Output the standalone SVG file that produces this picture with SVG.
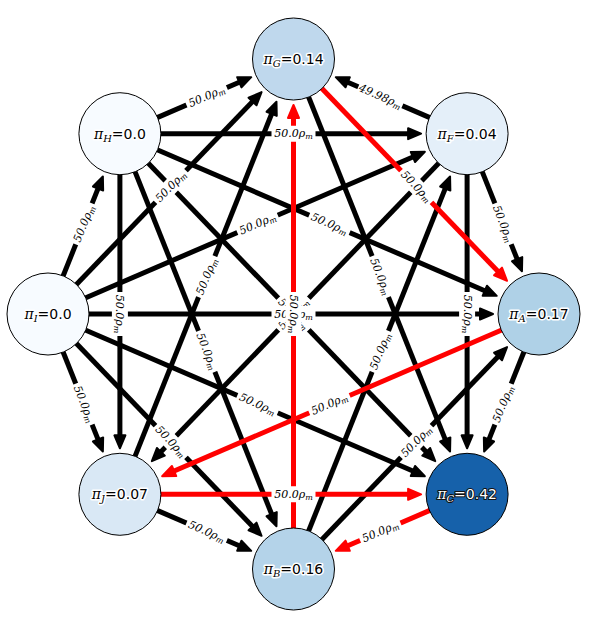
<svg xmlns="http://www.w3.org/2000/svg" width="598" height="631" viewBox="0 0 598 631">
<style>
.bg{fill:#fff}
.e{stroke:#000;stroke-width:5;fill:none;marker-end:url(#ab)}
.r{stroke:#f00;marker-end:url(#ar)}
.nd{stroke:#000;stroke-width:1}
.lb rect{fill:#fff}
.lb text{font-family:"DejaVu Serif",serif;font-style:italic;font-size:11px;text-anchor:middle;fill:#000}
.lb tspan{font-size:8px}
.nt{font-family:"DejaVu Sans",sans-serif;font-size:14px;text-anchor:middle;fill:#000;stroke:#fff;stroke-width:3;paint-order:stroke;stroke-linejoin:round}
.nt .m{font-family:"DejaVu Serif",serif;font-style:italic}
.nt .s{font-family:"DejaVu Serif",serif;font-style:italic;font-size:10px}
.nt .q{font-family:"DejaVu Serif",serif}
.dk{fill:#fff;stroke:#111;stroke-width:2}
</style>
<defs>
<marker id="ab" markerUnits="userSpaceOnUse" markerWidth="20" markerHeight="16" viewBox="-2 -8 20 16" refX="5" refY="0" orient="auto"><path d="M0,-5.5 L13,0 L0,5.5 z" fill="#000" stroke="#000" stroke-width="2" stroke-linejoin="round"/></marker>
<marker id="ar" markerUnits="userSpaceOnUse" markerWidth="20" markerHeight="16" viewBox="-2 -8 20 16" refX="5" refY="0" orient="auto"><path d="M0,-5.5 L13,0 L0,5.5 z" fill="#f00" stroke="#f00" stroke-width="2" stroke-linejoin="round"/></marker>
</defs>
<rect class="bg" width="598" height="631"/>
<g id="edges">
<line class="e" x1="156.6" y1="117.9" x2="243.9" y2="80.3"/>
<line class="e" x1="75.7" y1="285.2" x2="256.0" y2="97.9"/>
<line class="e" x1="134.7" y1="457.1" x2="273.5" y2="109.2"/>
<line class="e" x1="430.4" y1="117.9" x2="343.1" y2="80.3"/>
<line class="e" x1="308.3" y1="96.2" x2="447.1" y2="444.1"/>
<line class="e" x1="159.9" y1="133.7" x2="413.1" y2="133.7"/>
<line class="e" x1="84.7" y1="298.2" x2="417.5" y2="155.0"/>
<line class="e" x1="308.3" y1="531.8" x2="447.1" y2="183.9"/>
<line class="e" x1="481.9" y1="170.9" x2="519.0" y2="263.8"/>
<line class="e" x1="467.1" y1="173.7" x2="467.1" y2="440.3"/>
<line class="e" x1="439.4" y1="162.5" x2="157.4" y2="455.4"/>
<line class="e" x1="156.6" y1="149.5" x2="489.4" y2="292.7"/>
<line class="e" x1="88" y1="314" x2="485" y2="314"/>
<line class="e" x1="321.2" y1="540.2" x2="501.5" y2="352.9"/>
<line class="e" x1="524.2" y1="351.2" x2="487.1" y2="444.1"/>
<line class="e" x1="147.6" y1="162.5" x2="429.7" y2="455.4"/>
<line class="e" x1="84.7" y1="329.8" x2="417.5" y2="473.0"/>
<line class="e" x1="156.6" y1="510.1" x2="243.9" y2="547.7"/>
<line class="e" x1="75.7" y1="342.8" x2="256.0" y2="530.1"/>
<line class="e" x1="134.7" y1="170.9" x2="273.5" y2="518.8"/>
<line class="e" x1="62.8" y1="351.2" x2="99.9" y2="444.1"/>
<line class="e" x1="119.9" y1="173.7" x2="119.9" y2="440.3"/>
<line class="e" x1="62.8" y1="276.8" x2="99.9" y2="183.9"/>
<line class="e r" x1="293.5" y1="529" x2="293.5" y2="113"/>
<line class="e r" x1="321.2" y1="87.8" x2="501.5" y2="275.1"/>
<line class="e r" x1="502.3" y1="329.8" x2="169.5" y2="473.0"/>
<line class="e r" x1="159.9" y1="494.3" x2="413.1" y2="494.3"/>
<line class="e r" x1="430.4" y1="510.1" x2="343.1" y2="547.7"/>
</g>
<g id="node-G"><circle class="nd" cx="293.5" cy="59" r="41" fill="#bfd8ed"/><text class="nt" x="293.5" y="64"><tspan class="m">π</tspan><tspan class="s" dy="3">G</tspan><tspan class="q" dy="-3">=</tspan>0.14</text></g>
<g id="node-F"><circle class="nd" cx="467.1" cy="133.7" r="41" fill="#e4eff9"/><text class="nt" x="467.1" y="138.7"><tspan class="m">π</tspan><tspan class="s" dy="3">F</tspan><tspan class="q" dy="-3">=</tspan>0.04</text></g>
<g id="node-A"><circle class="nd" cx="539" cy="314" r="41" fill="#afd1e7"/><text class="nt" x="539" y="319"><tspan class="m">π</tspan><tspan class="s" dy="3">A</tspan><tspan class="q" dy="-3">=</tspan>0.17</text></g>
<g id="node-C"><circle class="nd" cx="467.1" cy="494.3" r="41" fill="#1661aa"/><text class="nt dk" x="467.1" y="499.3"><tspan class="m">π</tspan><tspan class="s" dy="3">C</tspan><tspan class="q" dy="-3">=</tspan>0.42</text></g>
<g id="node-B"><circle class="nd" cx="293.5" cy="569" r="41" fill="#b4d3e9"/><text class="nt" x="293.5" y="574"><tspan class="m">π</tspan><tspan class="s" dy="3">B</tspan><tspan class="q" dy="-3">=</tspan>0.16</text></g>
<g id="node-J"><circle class="nd" cx="119.9" cy="494.3" r="41" fill="#d9e8f5"/><text class="nt" x="119.9" y="499.3"><tspan class="m">π</tspan><tspan class="s" dy="3">J</tspan><tspan class="q" dy="-3">=</tspan>0.07</text></g>
<g id="node-I"><circle class="nd" cx="48" cy="314" r="41" fill="#f7fbff"/><text class="nt" x="48" y="319"><tspan class="m">π</tspan><tspan class="s" dy="3">I</tspan><tspan class="q" dy="-3">=</tspan>0.0</text></g>
<g id="node-H"><circle class="nd" cx="119.9" cy="133.7" r="41" fill="#f7fbff"/><text class="nt" x="119.9" y="138.7"><tspan class="m">π</tspan><tspan class="s" dy="3">H</tspan><tspan class="q" dy="-3">=</tspan>0.0</text></g>
<g id="edge-labels" class="lb">
<g transform="translate(380.3,96.35) rotate(23.3)"><rect x="-24" y="-8" width="48" height="16" rx="3"/><text y="3.5">49.98ρ<tspan dy="2">m</tspan></text></g>
<g transform="translate(206.7,96.35) rotate(-23.3)"><rect x="-22" y="-8" width="44" height="16" rx="3"/><text y="3.5">50.0ρ<tspan dy="2">m</tspan></text></g>
<g transform="translate(416.25,186.5) rotate(46.1)"><rect x="-22" y="-8" width="44" height="16" rx="3"/><text y="3.5">50.0ρ<tspan dy="2">m</tspan></text></g>
<g transform="translate(380.3,276.65) rotate(68.3)"><rect x="-22" y="-8" width="44" height="16" rx="3"/><text y="3.5">50.0ρ<tspan dy="2">m</tspan></text></g>
<g transform="translate(206.7,276.65) rotate(-68.3)"><rect x="-22" y="-8" width="44" height="16" rx="3"/><text y="3.5">50.0ρ<tspan dy="2">m</tspan></text></g>
<g transform="translate(170.75,186.5) rotate(-46.1)"><rect x="-22" y="-8" width="44" height="16" rx="3"/><text y="3.5">50.0ρ<tspan dy="2">m</tspan></text></g>
<g transform="translate(503.05,223.85) rotate(68.3)"><rect x="-22" y="-8" width="44" height="16" rx="3"/><text y="3.5">50.0ρ<tspan dy="2">m</tspan></text></g>
<g transform="translate(467.1,314) rotate(90)"><rect x="-22" y="-8" width="44" height="16" rx="3"/><text y="3.5">50.0ρ<tspan dy="2">m</tspan></text></g>
<g transform="translate(380.3,351.35) rotate(-68.3)"><rect x="-22" y="-8" width="44" height="16" rx="3"/><text y="3.5">50.0ρ<tspan dy="2">m</tspan></text></g>
<g transform="translate(257.55,223.85) rotate(-23.3)"><rect x="-22" y="-8" width="44" height="16" rx="3"/><text y="3.5">50.0ρ<tspan dy="2">m</tspan></text></g>
<g transform="translate(293.5,133.7)"><rect x="-22" y="-8" width="44" height="16" rx="3"/><text y="3.5">50.0ρ<tspan dy="2">m</tspan></text></g>
<g transform="translate(329.45,223.85) rotate(23.3)"><rect x="-22" y="-8" width="44" height="16" rx="3"/><text y="3.5">50.0ρ<tspan dy="2">m</tspan></text></g>
<g transform="translate(416.25,441.5) rotate(-46.1)"><rect x="-22" y="-8" width="44" height="16" rx="3"/><text y="3.5">50.0ρ<tspan dy="2">m</tspan></text></g>
<g transform="translate(503.05,404.15) rotate(-68.3)"><rect x="-22" y="-8" width="44" height="16" rx="3"/><text y="3.5">50.0ρ<tspan dy="2">m</tspan></text></g>
<g transform="translate(329.45,404.15) rotate(-23.3)"><rect x="-22" y="-8" width="44" height="16" rx="3"/><text y="3.5">50.0ρ<tspan dy="2">m</tspan></text></g>
<g transform="translate(380.3,531.65) rotate(-23.3)"><rect x="-22" y="-8" width="44" height="16" rx="3"/><text y="3.5">50.0ρ<tspan dy="2">m</tspan></text></g>
<g transform="translate(293.5,494.3)"><rect x="-22" y="-8" width="44" height="16" rx="3"/><text y="3.5">50.0ρ<tspan dy="2">m</tspan></text></g>
<g transform="translate(257.55,404.15) rotate(23.3)"><rect x="-22" y="-8" width="44" height="16" rx="3"/><text y="3.5">50.0ρ<tspan dy="2">m</tspan></text></g>
<g transform="translate(206.7,531.65) rotate(23.3)"><rect x="-22" y="-8" width="44" height="16" rx="3"/><text y="3.5">50.0ρ<tspan dy="2">m</tspan></text></g>
<g transform="translate(170.75,441.5) rotate(46.1)"><rect x="-22" y="-8" width="44" height="16" rx="3"/><text y="3.5">50.0ρ<tspan dy="2">m</tspan></text></g>
<g transform="translate(206.7,351.35) rotate(68.3)"><rect x="-22" y="-8" width="44" height="16" rx="3"/><text y="3.5">50.0ρ<tspan dy="2">m</tspan></text></g>
<g transform="translate(83.95,404.15) rotate(68.3)"><rect x="-22" y="-8" width="44" height="16" rx="3"/><text y="3.5">50.0ρ<tspan dy="2">m</tspan></text></g>
<g transform="translate(119.9,314) rotate(90)"><rect x="-22" y="-8" width="44" height="16" rx="3"/><text y="3.5">50.0ρ<tspan dy="2">m</tspan></text></g>
<g transform="translate(83.95,223.85) rotate(-68.3)"><rect x="-22" y="-8" width="44" height="16" rx="3"/><text y="3.5">50.0ρ<tspan dy="2">m</tspan></text></g>
<g transform="translate(293.5,314) rotate(46.1)"><rect x="-22" y="-8" width="44" height="16" rx="3"/><text y="3.5">50.0ρ<tspan dy="2">m</tspan></text></g>
<g transform="translate(293.5,314) rotate(-46.1)"><rect x="-22" y="-8" width="44" height="16" rx="3"/><text y="3.5">50.0ρ<tspan dy="2">m</tspan></text></g>
<g transform="translate(293.5,314)"><rect x="-22" y="-8" width="44" height="16" rx="3"/><text y="3.5">50.0ρ<tspan dy="2">m</tspan></text></g>
<g transform="translate(293.5,314) rotate(90)"><rect x="-22" y="-8" width="44" height="16" rx="3"/><text y="3.5">50.0ρ<tspan dy="2">m</tspan></text></g>
</g>
</svg>
